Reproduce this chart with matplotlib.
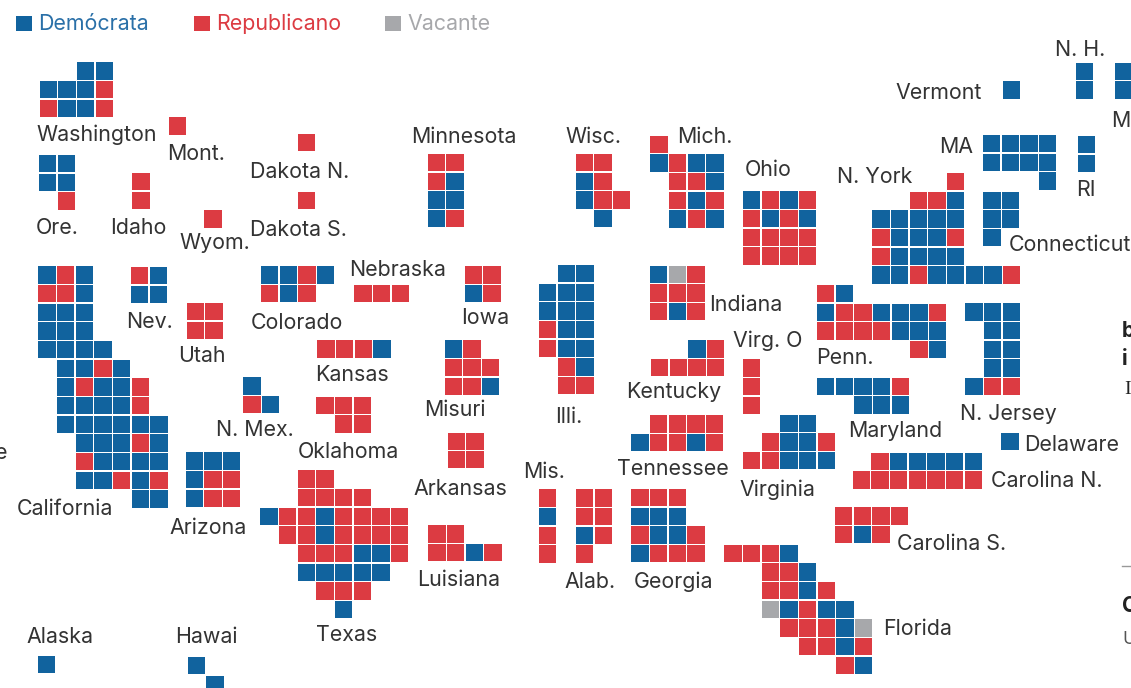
import matplotlib
matplotlib.use("Agg")
import matplotlib.pyplot as plt
from matplotlib.patches import Rectangle

# D = demócrata, R = republicano, V = vacante, space = no cell
washington = ["  DD", "DDDR", "RDDR"]
oregon = ["DD", "DD", " R"]
idaho = ["R", "R"]
montana = ["R"]
wyoming = ["R"]
dakota_n = ["R"]
dakota_s = ["R"]
minnesota = ["RR", "RD", "DD", "DR"]
wisconsin = ["RR", "DR", "DRR", " D"]
michigan = ["R", "DRDD", " RRD", " RDR", " DRD"]
ohio = ["DRDR", "RDRD", "RRRR", "RRRR"]
new_york = ["    R", "  RRD", "DDDDD", "RDDDR", "RDDDD", "DDRDDDDR"]
massachusetts = ["DDDD", "DDDD", "   D"]
connecticut = ["DD", "DD", "D"]
rhode_island = ["D", "D"]
vermont = ["D"]
new_hampshire = ["D", "D"]
maine = ["D", "D"]
california = ["DRD", "RRD", "DDD", "DDD", "DDDD", " DDRD", " DRDDR", " DDDDR",
              " DDDDDD", "  DDDRD", "  RDDDD", "  DDRDR", "     DD"]
nevada = ["RD", "DD"]
utah = ["RR", "RR"]
colorado = ["DDRD", "RDR"]
nebraska = ["RRR"]
iowa = ["RR", "DR"]
illinois = [" DD", "DDD", "DDD", "RDD", "RDD", " RD", " RR"]
indiana = ["DVR", "RRR", "RDR"]
pennsylvania = ["RD", "DRRDDDR", "RRRRDDD", "     RD"]
new_jersey = ["DDD", " DD", " DD", " DD", "DRR"]
kansas = ["RRRD"]
missouri = ["DR", "RRR", "RRD"]
kentucky = ["  DR", "RRRR"]
west_virginia = ["R", "R", "R"]
maryland = ["DDDDR", "  DDD"]
new_mexico = ["D", "RD"]
oklahoma = ["RRR", " RR"]
arkansas = ["RR", "RR"]
tennessee = [" RRRR", "DRRDR"]
virginia = ["  DD", " RDDR", "RRDDD"]
delaware = ["D"]
carolina_n = [" RDDDDD", "RRRRRRR"]
carolina_s = ["RRRR", "RDR"]
arizona = ["DDD", "DRR", "DRR"]
texas = ["  RR", "  RRRR", "DRRDRRRR", " RRDRRRR", "  RRRDDR", "  DDDDD", "   RRR", "    D"]
louisiana = ["RR", "RRDR"]
mississippi = ["R", "D", "R", "R"]
alabama = ["RR", "RR", "DR", "R"]
georgia = ["RRR", "DDD", "RDDR", "DRRR"]
florida = ["RRRD", "  RRD", "  RRDR", "  VDRDD", "   RRRDV", "    RRDR", "      RD"]
alaska = ["D"]
hawaii = ["D", " D"]

# where each block starts on the page (top left cell, in pixels)
blocks = [
    (washington, 39.7, 62.3), (oregon, 39, 155), (idaho, 132.3, 173), (montana, 168.7, 117.3),
    (wyoming, 204.3, 210.3), (dakota_n, 298, 133.7), (dakota_s, 298, 191.7),
    (minnesota, 427.7, 154), (wisconsin, 575.7, 154), (michigan, 650.3, 135.7),
    (ohio, 743, 191.3), (new_york, 872.3, 173), (massachusetts, 983, 135),
    (connecticut, 983.3, 191.7), (rhode_island, 1078, 136), (vermont, 1002.7, 81.3),
    (new_hampshire, 1076, 62.7), (maine, 1114.7, 62.7), (california, 38.3, 266.3),
    (nevada, 131, 267), (utah, 186.7, 303), (colorado, 261, 266.3), (nebraska, 354.3, 284.7),
    (iowa, 464.7, 266.3), (illinois, 539, 265), (indiana, 650, 265.7),
    (pennsylvania, 817, 285), (new_jersey, 965.3, 303.3), (kansas, 317.3, 340.3),
    (missouri, 444.7, 340.3), (kentucky, 651, 340.3), (west_virginia, 743, 359.3),
    (maryland, 817, 377.7), (new_mexico, 243.3, 377.3), (oklahoma, 316.3, 396.7),
    (arkansas, 447.7, 432.5), (tennessee, 631.3, 415.3), (virginia, 743, 414.7),
    (delaware, 1001.3, 432.7), (carolina_n, 852.7, 452.7), (carolina_s, 835, 507.3),
    (arizona, 185.7, 452.3), (texas, 260.3, 470.3), (louisiana, 428.3, 525.3),
    (mississippi, 538.7, 489.3), (alabama, 576, 489.3), (georgia, 631.3, 489),
    (florida, 724.3, 544.7), (alaska, 37.5, 656), (hawaii, 187.7, 657),
]

labels = [
    ("Washington", 36, 135), ("Mont.", 167, 154), ("Dakota N.", 250, 172), ("Ore.", 36, 228),
    ("Idaho", 110, 228), ("Wyom.", 179, 243), ("Dakota S.", 250, 230), ("Minnesota", 411, 137),
    ("Wisc.", 565, 137), ("Mich.", 677, 137), ("Ohio", 745, 170), ("N. York", 837, 177),
    ("MA", 939, 147), ("Vermont", 895, 93), ("N. H.", 1055, 50), ("M", 1111, 121),
    ("RI", 1076, 190), ("Connecticut", 1009, 245), ("Nebraska", 349, 270), ("Colorado", 251, 323),
    ("Nev.", 126, 322), ("Utah", 178, 356), ("Iowa", 461, 318), ("Indiana", 709, 305),
    ("Virg. O", 733, 341), ("Penn.", 816, 358), ("Kansas", 315, 375), ("Misuri", 424, 410),
    ("Kentucky", 626, 392), ("Illi.", 555, 417), ("N. Mex.", 216, 430), ("Oklahoma", 298, 452),
    ("Maryland", 848, 431), ("N. Jersey", 960, 414), ("Delaware", 1024, 445),
    ("Tennessee", 617, 469), ("Virginia", 739, 490), ("Mis.", 523, 472), ("Arkansas", 413, 489),
    ("Carolina N.", 991, 481), ("California", 17, 509), ("Arizona", 169, 528),
    ("Carolina S.", 897, 544), ("Luisiana", 417, 580), ("Alab.", 564, 582), ("Georgia", 634, 582),
    ("Texas", 316, 635), ("Alaska", 26, 637), ("Hawai", 175, 637), ("Florida", 883, 629),
    ("e", -5, 453),
]

legend_names = ["Demócrata", "Republicano", "Vacante"]
legend_keys = ["D", "R", "V"]
legend_x = [16, 194, 385]

colors = {"D": "#11639e", "R": "#dc3b42", "V": "#a7a8ab"}
legend_text = {"D": "#2a70a8", "R": "#dc3b42", "V": "#a7a8ab"}
pitch = 18.67
cell = 17.3

plt.rcParams["font.family"] = ["Inter", "DejaVu Sans"]

fig = plt.figure(figsize=(11.31, 6.88), dpi=100)
ax = fig.add_axes([0, 0, 1, 1])
ax.set_xlim(0, 1131)
ax.set_ylim(688, 0)
ax.axis("off")

for rows, x0, y0 in blocks:
    for r, row in enumerate(rows):
        for c, party in enumerate(row):
            if party == " ":
                continue
            ax.add_patch(Rectangle((x0 + c * pitch, y0 + r * pitch), cell, cell,
                                   facecolor=colors[party], edgecolor="none"))

for name, x, y in labels:
    ax.text(x, y, name, fontsize=15.4, color="#333333", ha="left", va="center")

for name, key, x in zip(legend_names, legend_keys, legend_x):
    ax.add_patch(Rectangle((x, 15.5), 15.5, 15.5, facecolor=colors[key], edgecolor="none"))
    ax.text(x + 22, 24, name, fontsize=15.4, color=legend_text[key], ha="left", va="center")

# bits of the text column cut off at the right edge
ax.text(1122, 331, "b", fontsize=15, fontweight="bold", color="#222222", ha="left", va="center")
ax.text(1122, 359, "i", fontsize=15, fontweight="bold", color="#222222", ha="left", va="center")
ax.text(1124, 390, "I", fontsize=14, family="Liberation Serif", color="#222222", ha="left", va="center")
ax.text(1122, 606, "C", fontsize=15, fontweight="bold", color="#222222", ha="left", va="center")
ax.text(1122, 639, "U", fontsize=13, color="#555555", ha="left", va="center")
ax.plot([1122, 1131], [566, 566], color="#999999", lw=1)

fig.savefig("out.png", dpi=100)
